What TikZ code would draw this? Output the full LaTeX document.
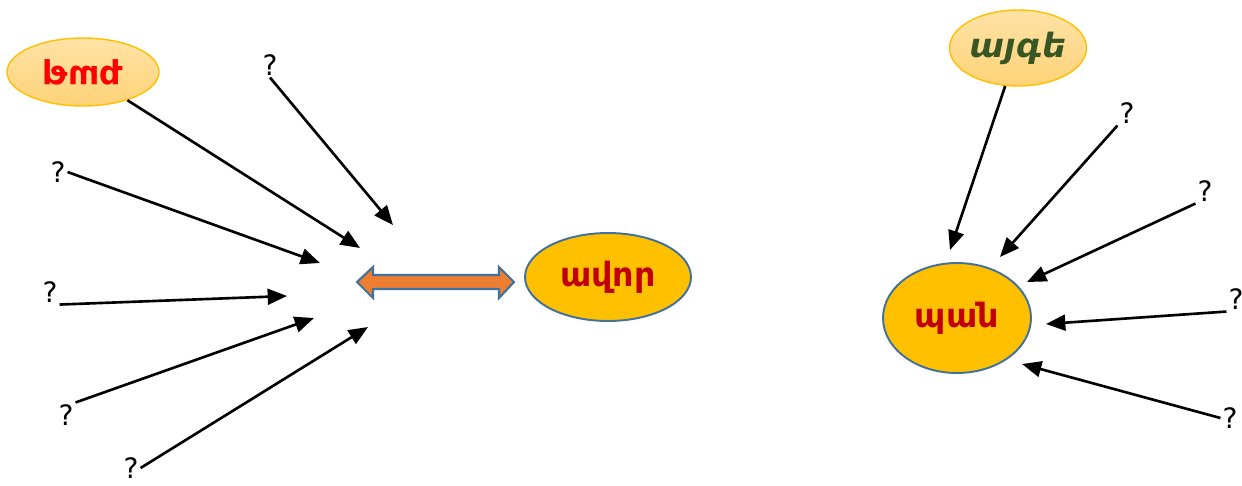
\documentclass[tikz,border=0pt]{standalone}
\usepackage{fontspec}
\usepackage{graphicx}
\setmainfont{DejaVu Sans}
\usetikzlibrary{positioning, arrows.meta, shapes.geometric}

\definecolor{goldfill}{HTML}{FFC000}
\definecolor{blueline}{HTML}{41719C}
\definecolor{paletop}{HTML}{FFE3A6}
\definecolor{palebot}{HTML}{FFD278}
\definecolor{darkred}{HTML}{C00000}
\definecolor{leafgreen}{HTML}{375623}
\definecolor{orangearrow}{HTML}{ED7D31}

\tikzset{
  paleoval/.style={ellipse, draw=goldfill, line width=0.8pt, top color=paletop, bottom color=palebot, inner sep=0pt},
  goldoval/.style={ellipse, draw=blueline, line width=1.1pt, fill=goldfill, inner sep=0pt},
  word/.style={font=\fontsize{19}{22}\selectfont\bfseries},
  qmark/.style={font=\fontsize{16}{18}\selectfont, inner sep=1pt},
  arr/.style={-{Triangle[length=11pt,width=9pt]}, line width=1.5pt}
}

\begin{document}
\begin{tikzpicture}[x=0.02cm, y=-0.02cm]
		\useasboundingbox (0,0) rectangle (1242,485);

		% Nodes
		\node (thag) [paleoval, minimum width=3.04cm, minimum height=1.36cm] at (83,72) {};
		\node [word, text=red] at (thag.center) {\scalebox{1}[-1]{թագ}};
		\node (avor) [goldoval, minimum width=3.32cm, minimum height=1.76cm, word, text=darkred] at (608,277) {ավոր};
		\node (ayge) [paleoval, minimum width=2.74cm, minimum height=1.52cm, word, text=leafgreen] at (1018,48) {\itshape այգե};
		\node (pan) [goldoval, minimum width=2.96cm, minimum height=2.2cm, word, text=darkred] at (957,318) {պան};

		\node (qa) [qmark] at (270,65) {?};
		\node (qb) [qmark] at (58,172) {?};
		\node (qc) [qmark] at (50,292) {?};
		\node (qd) [qmark] at (66,415) {?};
		\node (qe) [qmark] at (131,468) {?};
		\node (qf) [qmark] at (1127,113) {?};
		\node (qg) [qmark] at (1205,191) {?};
		\node (qh) [qmark] at (1236,299) {?};
		\node (qi) [qmark] at (1230,418) {?};

		% free arrow ends
		\coordinate (ta) at (393,225);
		\coordinate (tb) at (360,248);
		\coordinate (tc) at (320,263);
		\coordinate (td) at (287,296);
		\coordinate (te) at (314,318);
		\coordinate (tf) at (368,327);
		\coordinate (tg) at (950,250);
		\coordinate (th) at (1000,257);
		\coordinate (ti) at (1027,282);
		\coordinate (tj) at (1046,324);
		\coordinate (tk) at (1022,364);

		% Double arrow
		\draw[blueline, line width=1.2pt, fill=orangearrow, line join=miter]
			(357,282) -- (373,267) -- (373,275) -- (499,275) -- (499,267) -- (514,282)
			-- (499,298) -- (499,289) -- (373,289) -- (373,298) -- cycle;

		% Arrows
		\path[arr] (qa.south) edge (ta);
		\path[arr] (thag) edge (tb);
		\path[arr] (qb.east) edge (tc);
		\path[arr] (qc.south east) edge (td);
		\path[arr] (qd.north east) edge (te);
		\path[arr] (qe.east) edge (tf);

		\path[arr] (ayge) edge (tg);
		\path[arr] (qf.south west) edge (th);
		\path[arr] (qg.south west) edge (ti);
		\path[arr] (qh.south west) edge (tj);
		\path[arr] (qi.west) edge (tk);

	\end{tikzpicture}
\end{document}
